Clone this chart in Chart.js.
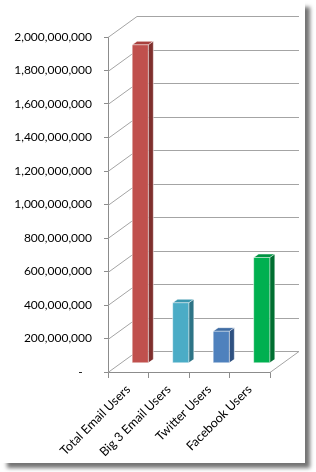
<!DOCTYPE html>
<html>
<head>
<meta charset="utf-8">
<script src="https://cdn.jsdelivr.net/npm/chart.js@4/dist/chart.umd.min.js"></script>
<style>
  html, body { margin: 0; padding: 0; background: #fff; }
  #frame {
    position: absolute; left: 0; top: 0; width: 305px; height: 463px;
    background: #fff; box-shadow: 6px 6px 4px -1px rgba(0,0,0,0.55);
  }
  #chart { position: absolute; left: 0; top: 0; }
</style>
</head>
<body>
<div id="frame"></div>
<canvas id="chart" width="316" height="472"></canvas>
<script>
// data
const categories = ['Total Email Users', 'Big 3 Email Users', 'Twitter Users', 'Facebook Users']
const users = [1900000000, 360000000, 190000000, 630000000]
const yMin = 0
const yMax = 2000000000
const yStep = 200000000

// colours: front, top, side
const frontColors = ['#C0504D', '#4BACC6', '#4F81BD', '#00B050']
const topColors = ['#A8403D', '#3A96AE', '#3F6CA3', '#009443']
const sideColors = ['#7F2F2D', '#2E7486', '#2F5181', '#006F31']

const FONT = { family: 'Lato', size: 12 }
const XFONT = { family: 'Lato', size: 12.5 }
const wall = { dx: 29, dy: 21 }      // depth of the back wall
const shift = { dx: 12, dy: 9 }      // bars stand mid-depth
const barDepth = { dx: 5, dy: 3.5 }  // depth of each bar

const fake3d = {
    id: 'fake3d',
    beforeDatasetsDraw(chart) {
        const { ctx, chartArea: a, scales: { y } } = chart
        ctx.save()
        ctx.strokeStyle = '#a4a4a4'
        ctx.lineWidth = 1
        y.ticks.forEach(t => {
            const py = Math.round(y.getPixelForValue(t.value)) + 0.5
            ctx.beginPath()
            ctx.moveTo(a.left, py)
            ctx.lineTo(a.left + wall.dx, py - wall.dy)
            ctx.lineTo(a.right + wall.dx, py - wall.dy)
            ctx.stroke()
        })
        // floor, right edge
        const p0 = Math.round(y.getPixelForValue(0)) + 0.5
        ctx.beginPath()
        ctx.moveTo(a.right, p0)
        ctx.lineTo(a.right + wall.dx, p0 - wall.dy)
        ctx.stroke()
        ctx.restore()

        ctx.save()
        ctx.translate(shift.dx, -shift.dy)
    },
    afterDatasetsDraw(chart) {
        const ctx = chart.ctx
        const meta = chart.getDatasetMeta(0)
        meta.data.forEach((bar, i) => {
            const l = bar.x - bar.width / 2
            const r = bar.x + bar.width / 2
            const top = bar.y
            const base = bar.base
            // side
            ctx.fillStyle = sideColors[i]
            ctx.beginPath()
            ctx.moveTo(r, top)
            ctx.lineTo(r + barDepth.dx, top - barDepth.dy)
            ctx.lineTo(r + barDepth.dx, base - barDepth.dy)
            ctx.lineTo(r, base)
            ctx.closePath()
            ctx.fill()
            // top
            ctx.fillStyle = topColors[i]
            ctx.beginPath()
            ctx.moveTo(l, top)
            ctx.lineTo(l + barDepth.dx, top - barDepth.dy)
            ctx.lineTo(r + barDepth.dx, top - barDepth.dy)
            ctx.lineTo(r, top)
            ctx.closePath()
            ctx.fill()
            // light edges
            ctx.strokeStyle = 'rgba(255,255,255,0.55)'
            ctx.lineWidth = 1
            ctx.beginPath()
            ctx.moveTo(l, base)
            ctx.lineTo(l, top)
            ctx.lineTo(l + barDepth.dx, top - barDepth.dy)
            ctx.lineTo(r + barDepth.dx, top - barDepth.dy)
            ctx.lineTo(r + barDepth.dx, base - barDepth.dy)
            ctx.moveTo(r, base)
            ctx.lineTo(r, top)
            ctx.lineTo(r + barDepth.dx, top - barDepth.dy)
            ctx.moveTo(r, top)
            ctx.lineTo(l, top)
            ctx.stroke()
        })
        ctx.restore()
    }
}

new Chart(document.getElementById('chart'), {
    type: 'bar',
    data: {
        labels: categories,
        datasets: [{
            data: users,
            backgroundColor: frontColors,
            borderWidth: 0,
            categoryPercentage: 1,
            barPercentage: 0.4,
        }]
    },
    options: {
        responsive: false,
        animation: false,
        layout: { padding: { top: 37, right: 46, bottom: 12, left: 0 } },
        plugins: { legend: { display: false }, tooltip: { enabled: false } },
        scales: {
            x: {
                offset: true,
                grid: { display: true, drawOnChartArea: false, offset: true, tickLength: 6, color: '#8c8c8c' },
                border: { display: true, color: '#8c8c8c' },
                ticks: { minRotation: 45, maxRotation: 45, color: '#000', font: XFONT, padding: 4 },
                afterFit: s => { s.height = 88 }
            },
            y: {
                min: yMin,
                max: yMax,
                grid: { drawOnChartArea: false, tickLength: 4, color: '#8c8c8c' },
                border: { display: true, color: '#8c8c8c' },
                ticks: {
                    stepSize: yStep,
                    color: '#000',
                    font: FONT,
                    padding: 12,
                    callback: v => v === 0 ? '-   ' : v.toLocaleString('en-US')
                },
                afterFit: s => { s.width = 108 }
            }
        }
    },
    plugins: [fake3d]
})
</script>
</body>
</html>
